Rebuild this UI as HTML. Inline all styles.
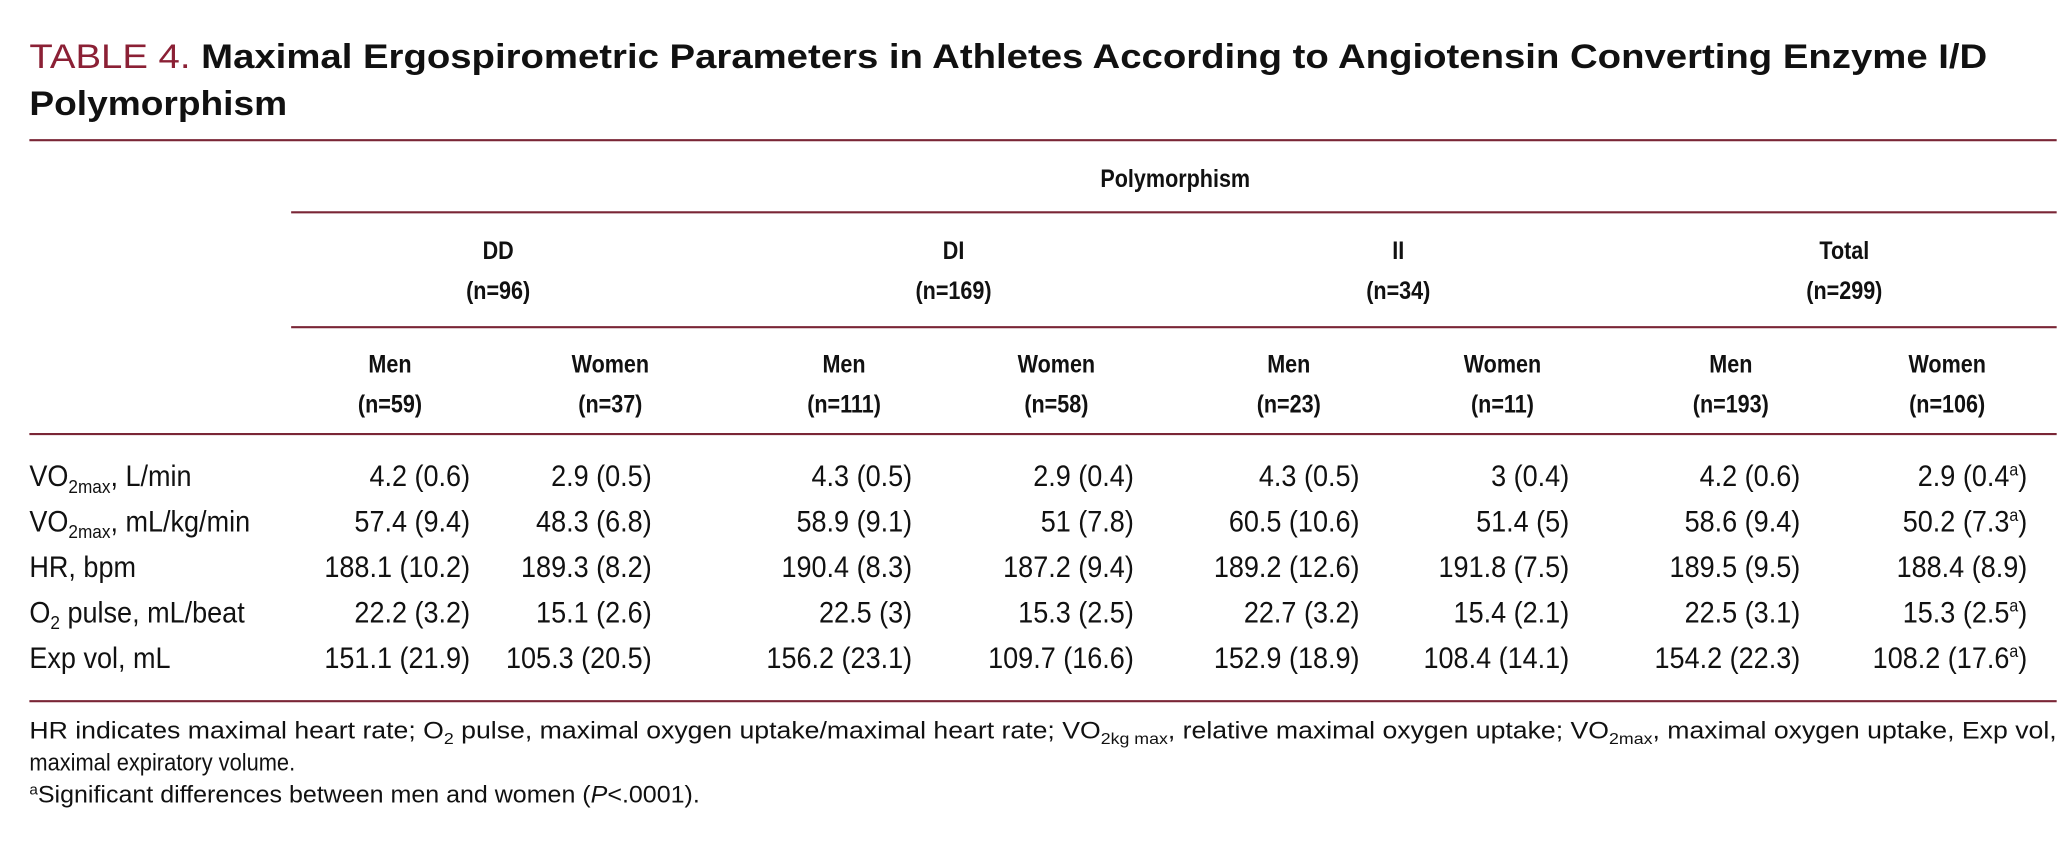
<!DOCTYPE html>
<html><head><meta charset="utf-8">
<style>
html,body{margin:0;padding:0;background:#fff;}
svg{display:block;}
text{font-family:"Liberation Sans",Arial,sans-serif;fill:#111;}
.b{font-weight:bold;}
</style></head>
<body>
<svg id="tbl" width="2070" height="841" viewBox="0 0 2070 841" xmlns="http://www.w3.org/2000/svg">
<g id="root" transform="scale(1.3355)">
  <g>
    <text x="22" y="51" font-size="26" textLength="1466" lengthAdjust="spacingAndGlyphs"><tspan fill="#8b2035" style="fill:#8b2035">TABLE 4. </tspan><tspan class="b" font-weight="bold">Maximal Ergospirometric Parameters in Athletes According to Angiotensin Converting Enzyme I/D</tspan></text>
    <text x="22" y="86" font-size="26" font-weight="bold" textLength="193" lengthAdjust="spacingAndGlyphs">Polymorphism</text>
  </g>
  <g id="rules" stroke="#7a2636" stroke-width="1.6">
    <line x1="22" y1="105" x2="1540" y2="105"/>
    <line x1="218" y1="159" x2="1540" y2="159"/>
    <line x1="218" y1="245" x2="1540" y2="245"/>
    <line x1="22" y1="325" x2="1540" y2="325"/>
    <line x1="22" y1="525" x2="1540" y2="525"/>
  </g>
  <text font-weight="bold" font-size="19" text-anchor="middle" transform="translate(880,140) scale(0.85,1)">Polymorphism</text>
  <g id="hdr"></g>
  <g id="body"></g>
  <g font-size="18">
    <text x="22" y="553" textLength="1518" lengthAdjust="spacingAndGlyphs">HR indicates maximal heart rate; O<tspan font-size="12" dy="4">2</tspan><tspan dy="-4"> pulse, maximal oxygen uptake/maximal heart rate; VO</tspan><tspan font-size="12" dy="4">2kg max</tspan><tspan dy="-4">, relative maximal oxygen uptake; VO</tspan><tspan font-size="12" dy="4">2max</tspan><tspan dy="-4">, maximal oxygen uptake, Exp vol,</tspan></text>
    <text x="22" y="577" textLength="199" lengthAdjust="spacingAndGlyphs">maximal expiratory volume.</text>
    <text x="22" y="601" textLength="502" lengthAdjust="spacingAndGlyphs"><tspan font-size="11" dy="-6">a</tspan><tspan dy="6">Significant differences between men and women (</tspan><tspan font-style="italic">P</tspan>&lt;.0001).</text>
  </g>
</g>
</svg>
<script>
const groups = ["DD","DI","II","Total"];
const groupN = ["(n=96)","(n=169)","(n=34)","(n=299)"];
const sexes = ["Men","Women","Men","Women","Men","Women","Men","Women"];
const sexN = ["(n=59)","(n=37)","(n=111)","(n=58)","(n=23)","(n=11)","(n=193)","(n=106)"];
const rowLabels = [["VO","2max",", L/min"],["VO","2max",", mL/kg/min"],["HR, bpm","",""],["O","2"," pulse, mL/beat"],["Exp vol, mL","",""]];
const means = [
 [4.2,2.9,4.3,2.9,4.3,3,4.2,2.9],
 [57.4,48.3,58.9,51,60.5,51.4,58.6,50.2],
 [188.1,189.3,190.4,187.2,189.2,191.8,189.5,188.4],
 [22.2,15.1,22.5,15.3,22.7,15.4,22.5,15.3],
 [151.1,105.3,156.2,109.7,152.9,108.4,154.2,108.2]];
const sds = [
 ["0.6","0.5","0.5","0.4","0.5","0.4","0.6","0.4"],
 ["9.4","6.8","9.1","7.8","10.6","5","9.4","7.3"],
 ["10.2","8.2","8.3","9.4","12.6","7.5","9.5","8.9"],
 ["3.2","2.6","3","2.5","3.2","2.1","3.1","2.5"],
 ["21.9","20.5","23.1","16.6","18.9","14.1","22.3","17.6"]];
const sig = [
 [0,0,0,0,0,0,0,1],[0,0,0,0,0,0,0,1],[0,0,0,0,0,0,0,0],[0,0,0,0,0,0,0,1],[0,0,0,0,0,0,0,1]];

const NS="http://www.w3.org/2000/svg";
const groupX = [373,714,1047,1381];
const sexX = [292,457,632,791,965,1125,1296,1458];
const colRight = [352,488,683,849,1018,1175,1348,1518];
const rowY = i => 364 + i*34;
function mk(tag,attrs,parent){const e=document.createElementNS(NS,tag);for(const k in attrs)e.setAttribute(k,attrs[k]);parent.appendChild(e);return e;}
const hdr=document.getElementById('hdr'), body=document.getElementById('body');
groups.forEach((g,i)=>{
  let t=mk('text',{'font-size':19,'font-weight':'bold','text-anchor':'middle',transform:`translate(${groupX[i]},194) scale(0.85,1)`},hdr);
  t.textContent=g;
  
  
  let n=mk('text',{'font-size':19,'font-weight':'bold','text-anchor':'middle',transform:`translate(${groupX[i]},224) scale(0.85,1)`},hdr);
  n.textContent=groupN[i];
  
  
});
sexes.forEach((s,i)=>{
  let t=mk('text',{'font-size':19,'font-weight':'bold','text-anchor':'middle',transform:`translate(${sexX[i]},279) scale(0.85,1)`},hdr);
  t.textContent=s;
  
  
  let n=mk('text',{'font-size':19,'font-weight':'bold','text-anchor':'middle',transform:`translate(${sexX[i]},309) scale(0.85,1)`},hdr);
  n.textContent=sexN[i];
  
  
});
rowLabels.forEach((r,i)=>{
  let t=mk('text',{'font-size':22,transform:`translate(22,${rowY(i)}) scale(0.92,1)`},body);
  
  
  let a=mk('tspan',{},t);a.textContent=r[0];
  if(r[1]){let b=mk('tspan',{'font-size':14,dy:5},t);b.textContent=r[1];let c=mk('tspan',{dy:-5},t);c.textContent=r[2];}
  means[i].forEach((m,j)=>{
    let c=mk('text',{'font-size':22,'text-anchor':'end',transform:`translate(${colRight[j]},${rowY(i)}) scale(0.92,1)`},body);
    
    
    let p=mk('tspan',{},c);p.textContent=m+' ('+sds[i][j];
    if(sig[i][j]){let s=mk('tspan',{'font-size':13,dy:-8},c);s.textContent='a';let q=mk('tspan',{dy:8},c);q.textContent=')';}
    else{let q=mk('tspan',{},c);q.textContent=')';}
  });
});
</script>
</body></html>
